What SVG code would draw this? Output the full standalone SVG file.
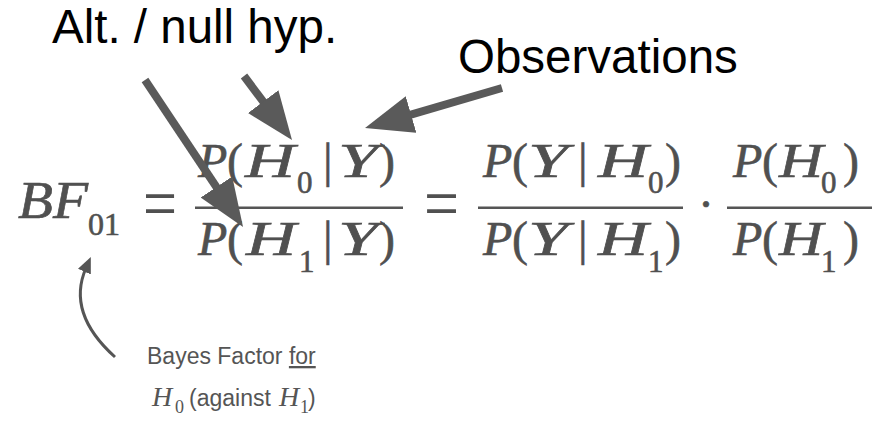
<svg xmlns="http://www.w3.org/2000/svg" width="876" height="425" viewBox="0 0 876 425">
  <style>
    .lbl { font-family: "Liberation Sans", Arial, sans-serif; font-size: 47.5px; fill: #000; }
    .m { font-family: "Liberation Serif", "Times New Roman", serif; fill: #505050; stroke: #505050; stroke-width: 0.6px; }
    .mi { font-family: "Liberation Serif", "Times New Roman", serif; font-style: italic; fill: #505050; stroke: #505050; stroke-width: 0.6px; }
    .big { font-size: 48px; }
    .sub { font-size: 31px; }
    .eq { font-family: "Liberation Serif", "Times New Roman", serif; font-size: 74px; fill: #505050; }
    .cap { font-family: "Liberation Sans", Arial, sans-serif; font-size: 23px; fill: #555; }
    .capi { font-family: "Liberation Serif", "Times New Roman", serif; font-style: italic; font-size: 28px; fill: #555; }
    .caps { font-family: "Liberation Serif", "Times New Roman", serif; font-size: 18px; fill: #555; }
    .bar { fill: #555; }
    .conn { stroke: #5a5a5a; stroke-width: 8; fill: none; }
    .curve { stroke: #555; stroke-width: 3; fill: none; }
  </style>
  <defs>
    <marker id="head" viewBox="0 0 48 38" refX="18" refY="19" markerWidth="48" markerHeight="38" markerUnits="userSpaceOnUse" orient="auto">
      <path d="M0,0 L48,19 L0,38 z" fill="#5a5a5a"/>
    </marker>
    <marker id="smallhead" viewBox="0 0 16 14" refX="4" refY="7" markerWidth="16" markerHeight="14" markerUnits="userSpaceOnUse" orient="auto">
      <path d="M0,0 L16,7 L0,14 z" fill="#555"/>
    </marker>
  </defs>

  <g id="label-hyp">
    <text class="lbl" x="52" y="43">Alt. / null hyp.</text>
  </g>
  <g id="label-obs">
    <text class="lbl" x="458" y="73">Observations</text>
  </g>

  <g id="formula">
    <text class="mi" x="18" y="218" font-size="52" textLength="70" lengthAdjust="spacingAndGlyphs">BF</text>
    <text class="m" x="88" y="235" font-size="32">01</text>
    <text class="eq" x="143" y="228" textLength="34" lengthAdjust="spacingAndGlyphs">=</text>

    <!-- fraction 1 -->
    <text class="mi big" x="198" y="177">P</text>
    <text class="m big" x="227" y="177">(</text>
    <text class="mi big" x="245" y="177" textLength="50" lengthAdjust="spacingAndGlyphs">H</text>
    <text class="m sub" x="297" y="193">0</text>
    <text class="m big" x="323" y="177">|</text>
    <text class="mi big" x="338" y="177" textLength="40" lengthAdjust="spacingAndGlyphs">Y</text>
    <text class="m big" x="379" y="177">)</text>
    <rect class="bar" x="195" y="206.5" width="208" height="2.5"/>
    <text class="mi big" x="198" y="255">P</text>
    <text class="m big" x="227" y="255">(</text>
    <text class="mi big" x="246" y="255" textLength="50" lengthAdjust="spacingAndGlyphs">H</text>
    <text class="m sub" x="299" y="272">1</text>
    <text class="m big" x="323" y="255">|</text>
    <text class="mi big" x="338" y="255" textLength="40" lengthAdjust="spacingAndGlyphs">Y</text>
    <text class="m big" x="379" y="255">)</text>

    <text class="eq" x="424" y="228" textLength="35" lengthAdjust="spacingAndGlyphs">=</text>

    <!-- fraction 2 -->
    <text class="mi big" x="483" y="177">P</text>
    <text class="m big" x="512" y="177">(</text>
    <text class="mi big" x="528" y="177" textLength="40" lengthAdjust="spacingAndGlyphs">Y</text>
    <text class="m big" x="578" y="177">|</text>
    <text class="mi big" x="598" y="177" textLength="50" lengthAdjust="spacingAndGlyphs">H</text>
    <text class="m sub" x="648" y="193">0</text>
    <text class="m big" x="665" y="177">)</text>
    <rect class="bar" x="478" y="206.5" width="205" height="2.5"/>
    <text class="mi big" x="483" y="255">P</text>
    <text class="m big" x="512" y="255">(</text>
    <text class="mi big" x="528" y="255" textLength="40" lengthAdjust="spacingAndGlyphs">Y</text>
    <text class="m big" x="578" y="255">|</text>
    <text class="mi big" x="598" y="255" textLength="50" lengthAdjust="spacingAndGlyphs">H</text>
    <text class="m sub" x="648" y="272">1</text>
    <text class="m big" x="665" y="255">)</text>

    <text class="m big" x="706" y="220" text-anchor="middle">·</text>

    <!-- fraction 3 -->
    <text class="mi big" x="733" y="177">P</text>
    <text class="m big" x="762" y="177">(</text>
    <text class="mi big" x="779" y="177" textLength="44" lengthAdjust="spacingAndGlyphs">H</text>
    <text class="m sub" x="821" y="193">0</text>
    <text class="m big" x="843" y="177">)</text>
    <rect class="bar" x="727" y="206.5" width="145" height="2.5"/>
    <text class="mi big" x="733" y="255">P</text>
    <text class="m big" x="762" y="255">(</text>
    <text class="mi big" x="779" y="255" textLength="44" lengthAdjust="spacingAndGlyphs">H</text>
    <text class="m sub" x="821" y="272">1</text>
    <text class="m big" x="843" y="255">)</text>
  </g>

  <g id="caption">
    <text class="cap" x="147" y="364">Bayes Factor <tspan text-decoration="underline">for</tspan></text>
    <text class="capi" x="152" y="406">H</text>
    <text class="caps" x="175" y="413">0</text>
    <text class="cap" x="189" y="406">(against </text>
    <text class="capi" x="279" y="406">H</text>
    <text class="caps" x="300" y="413">1</text>
    <text class="cap" x="308" y="406">)</text>
  </g>

  <g id="connectors">
    <line class="conn" x1="145" y1="80" x2="226.4" y2="202" marker-end="url(#head)"/>
    <line class="conn" x1="244" y1="76" x2="274" y2="116" marker-end="url(#head)"/>
    <line class="conn" x1="502" y1="88" x2="393.8" y2="119.6" marker-end="url(#head)"/>
    <path class="curve" d="M115,357 C85,330 72,300 86,268" marker-end="url(#smallhead)"/>
  </g>
</svg>
